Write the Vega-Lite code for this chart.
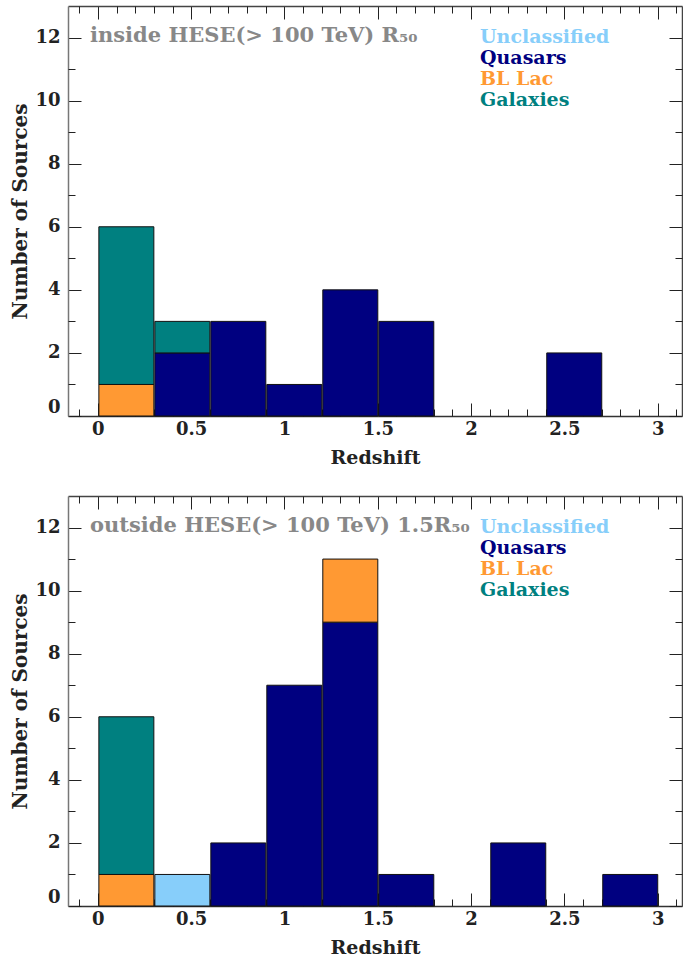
{
  "$schema": "https://vega.github.io/schema/vega-lite/v6.json",
  "padding": {"left": 10, "top": 5, "right": 0, "bottom": 0},
  "spacing": 28,
  "datasets": {
    "inside": [
      {"z_low": 0.0, "z_high": 0.3, "type": "BL Lac", "sources": 1},
      {"z_low": 0.0, "z_high": 0.3, "type": "Galaxies", "sources": 5},
      {"z_low": 0.3, "z_high": 0.6, "type": "Quasars", "sources": 2},
      {"z_low": 0.3, "z_high": 0.6, "type": "Galaxies", "sources": 1},
      {"z_low": 0.6, "z_high": 0.9, "type": "Quasars", "sources": 3},
      {"z_low": 0.9, "z_high": 1.2, "type": "Quasars", "sources": 1},
      {"z_low": 1.2, "z_high": 1.5, "type": "Quasars", "sources": 4},
      {"z_low": 1.5, "z_high": 1.8, "type": "Quasars", "sources": 3},
      {"z_low": 2.4, "z_high": 2.7, "type": "Quasars", "sources": 2}
    ],
    "outside": [
      {"z_low": 0.0, "z_high": 0.3, "type": "BL Lac", "sources": 1},
      {"z_low": 0.0, "z_high": 0.3, "type": "Galaxies", "sources": 5},
      {"z_low": 0.3, "z_high": 0.6, "type": "Unclassified", "sources": 1},
      {"z_low": 0.6, "z_high": 0.9, "type": "Quasars", "sources": 2},
      {"z_low": 0.9, "z_high": 1.2, "type": "Quasars", "sources": 7},
      {"z_low": 1.2, "z_high": 1.5, "type": "Quasars", "sources": 9},
      {"z_low": 1.2, "z_high": 1.5, "type": "BL Lac", "sources": 2},
      {"z_low": 1.5, "z_high": 1.8, "type": "Quasars", "sources": 1},
      {"z_low": 2.1, "z_high": 2.4, "type": "Quasars", "sources": 2},
      {"z_low": 2.7, "z_high": 3.0, "type": "Quasars", "sources": 1}
    ]
  },
  "vconcat": [
    {
      "width": 614,
      "height": 410,
      "data": {"name": "inside"},
      "transform": [{"calculate": "indexof(['Unclassified', 'Quasars', 'BL Lac', 'Galaxies'], datum.type)", "as": "stack_rank"}],
      "title": {"text": "inside HESE(> 100 TeV) R₅₀", "anchor": "start", "frame": "group", "orient": "top", "offset": -61, "dx": 22, "baseline": "bottom", "color": "#888888", "font": "DejaVu Serif", "fontSize": 21, "fontWeight": "bold"},
      "resolve": {"axis": {"x": "independent", "y": "independent"}},
      "layer": [
        {
          "mark": {"type": "bar", "stroke": "#111111", "strokeWidth": 1},
          "encoding": {
            "x": {"field": "z_low", "type": "quantitative", "bin": {"binned": true}, "scale": {"domain": [-0.16, 3.13], "nice": false, "zero": false},
              "axis": {"orient": "bottom", "title": "Redshift", "values": [0, 0.5, 1, 1.5, 2, 2.5, 3], "format": "~g", "tickSize": -13, "labelPadding": 17, "titlePadding": 10, "domainColor": "#333333"}},
            "x2": {"field": "z_high"},
            "y": {"field": "sources", "type": "quantitative", "stack": "zero", "scale": {"domain": [0, 13], "nice": false},
              "axis": {"orient": "left", "title": "Number of Sources", "values": [0, 2, 4, 6, 8, 10, 12], "tickSize": -13, "labelPadding": 21, "labelFlush": true, "titlePadding": 4, "titleFontSize": 20, "domainColor": "#777777"}},
            "order": {"field": "stack_rank", "type": "quantitative", "sort": "ascending"},
            "color": {"field": "type", "type": "nominal",
              "scale": {"domain": ["Unclassified", "Quasars", "BL Lac", "Galaxies"], "range": ["#87cefa", "#000080", "#ff9933", "#008080"]},
              "legend": {"orient": "none", "legendX": 393, "legendY": 21, "title": null, "symbolOpacity": 0, "symbolSize": 0, "symbolStrokeWidth": 0, "labelOffset": 0, "rowPadding": 1, "padding": 0,
                "labelFont": "DejaVu Serif", "labelFontSize": 19, "labelFontWeight": "bold",
                "labelColor": {"expr": "datum.label === 'Unclassified' ? '#87cefa' : datum.label === 'Quasars' ? '#000080' : datum.label === 'BL Lac' ? '#ff9933' : '#008080'"}}}
          }
        },
        {
          "mark": {"type": "rule", "opacity": 0},
          "encoding": {
            "x": {"field": "z_low", "type": "quantitative", "scale": {"domain": [-0.16, 3.13], "nice": false, "zero": false},
              "axis": {"orient": "bottom", "title": null, "labels": false, "domain": false, "tickSize": -7, "values": [-0.1, 0.1, 0.2, 0.3, 0.4, 0.6, 0.7, 0.8, 0.9, 1.1, 1.2, 1.3, 1.4, 1.6, 1.7, 1.8, 1.9, 2.1, 2.2, 2.3, 2.4, 2.6, 2.7, 2.8, 2.9, 3.1]}},
            "y": {"field": "sources", "type": "quantitative", "scale": {"domain": [0, 13], "nice": false},
              "axis": {"orient": "left", "title": null, "labels": false, "domain": false, "tickSize": -7, "values": [1, 3, 5, 7, 9, 11]}}
          }
        },
        {
          "mark": {"type": "rule", "opacity": 0},
          "encoding": {
            "x": {"field": "z_low", "type": "quantitative", "scale": {"domain": [-0.16, 3.13], "nice": false, "zero": false},
              "axis": {"orient": "top", "title": null, "labels": false, "tickSize": -13, "values": [0, 0.5, 1, 1.5, 2, 2.5, 3], "domainColor": "#444444"}},
            "y": {"field": "sources", "type": "quantitative", "scale": {"domain": [0, 13], "nice": false},
              "axis": {"orient": "right", "title": null, "labels": false, "tickSize": -13, "values": [0, 2, 4, 6, 8, 10, 12], "domainColor": "#444444"}}
          }
        },
        {
          "mark": {"type": "rule", "opacity": 0},
          "encoding": {
            "x": {"field": "z_low", "type": "quantitative", "scale": {"domain": [-0.16, 3.13], "nice": false, "zero": false},
              "axis": {"orient": "top", "title": null, "labels": false, "domain": false, "tickSize": -7, "values": [-0.1, 0.1, 0.2, 0.3, 0.4, 0.6, 0.7, 0.8, 0.9, 1.1, 1.2, 1.3, 1.4, 1.6, 1.7, 1.8, 1.9, 2.1, 2.2, 2.3, 2.4, 2.6, 2.7, 2.8, 2.9, 3.1]}},
            "y": {"field": "sources", "type": "quantitative", "scale": {"domain": [0, 13], "nice": false},
              "axis": {"orient": "right", "title": null, "labels": false, "domain": false, "tickSize": -7, "values": [1, 3, 5, 7, 9, 11]}}
          }
        }
      ]
    },
    {
      "width": 614,
      "height": 410,
      "data": {"name": "outside"},
      "transform": [{"calculate": "indexof(['Unclassified', 'Quasars', 'BL Lac', 'Galaxies'], datum.type)", "as": "stack_rank"}],
      "title": {"text": "outside HESE(> 100 TeV) 1.5R₅₀", "anchor": "start", "frame": "group", "orient": "top", "offset": -61, "dx": 22, "baseline": "bottom", "color": "#888888", "font": "DejaVu Serif", "fontSize": 21, "fontWeight": "bold"},
      "resolve": {"axis": {"x": "independent", "y": "independent"}},
      "layer": [
        {
          "mark": {"type": "bar", "stroke": "#111111", "strokeWidth": 1},
          "encoding": {
            "x": {"field": "z_low", "type": "quantitative", "bin": {"binned": true}, "scale": {"domain": [-0.16, 3.13], "nice": false, "zero": false},
              "axis": {"orient": "bottom", "title": "Redshift", "values": [0, 0.5, 1, 1.5, 2, 2.5, 3], "format": "~g", "tickSize": -13, "labelPadding": 17, "titlePadding": 10, "domainColor": "#333333"}},
            "x2": {"field": "z_high"},
            "y": {"field": "sources", "type": "quantitative", "stack": "zero", "scale": {"domain": [0, 13], "nice": false},
              "axis": {"orient": "left", "title": "Number of Sources", "values": [0, 2, 4, 6, 8, 10, 12], "tickSize": -13, "labelPadding": 21, "labelFlush": true, "titlePadding": 4, "titleFontSize": 20, "domainColor": "#777777"}},
            "order": {"field": "stack_rank", "type": "quantitative", "sort": "ascending"},
            "color": {"field": "type", "type": "nominal",
              "scale": {"domain": ["Unclassified", "Quasars", "BL Lac", "Galaxies"], "range": ["#87cefa", "#000080", "#ff9933", "#008080"]},
              "legend": {"orient": "none", "legendX": 393, "legendY": 21, "title": null, "symbolOpacity": 0, "symbolSize": 0, "symbolStrokeWidth": 0, "labelOffset": 0, "rowPadding": 1, "padding": 0,
                "labelFont": "DejaVu Serif", "labelFontSize": 19, "labelFontWeight": "bold",
                "labelColor": {"expr": "datum.label === 'Unclassified' ? '#87cefa' : datum.label === 'Quasars' ? '#000080' : datum.label === 'BL Lac' ? '#ff9933' : '#008080'"}}}
          }
        },
        {
          "mark": {"type": "rule", "opacity": 0},
          "encoding": {
            "x": {"field": "z_low", "type": "quantitative", "scale": {"domain": [-0.16, 3.13], "nice": false, "zero": false},
              "axis": {"orient": "bottom", "title": null, "labels": false, "domain": false, "tickSize": -7, "values": [-0.1, 0.1, 0.2, 0.3, 0.4, 0.6, 0.7, 0.8, 0.9, 1.1, 1.2, 1.3, 1.4, 1.6, 1.7, 1.8, 1.9, 2.1, 2.2, 2.3, 2.4, 2.6, 2.7, 2.8, 2.9, 3.1]}},
            "y": {"field": "sources", "type": "quantitative", "scale": {"domain": [0, 13], "nice": false},
              "axis": {"orient": "left", "title": null, "labels": false, "domain": false, "tickSize": -7, "values": [1, 3, 5, 7, 9, 11]}}
          }
        },
        {
          "mark": {"type": "rule", "opacity": 0},
          "encoding": {
            "x": {"field": "z_low", "type": "quantitative", "scale": {"domain": [-0.16, 3.13], "nice": false, "zero": false},
              "axis": {"orient": "top", "title": null, "labels": false, "tickSize": -13, "values": [0, 0.5, 1, 1.5, 2, 2.5, 3], "domainColor": "#444444"}},
            "y": {"field": "sources", "type": "quantitative", "scale": {"domain": [0, 13], "nice": false},
              "axis": {"orient": "right", "title": null, "labels": false, "tickSize": -13, "values": [0, 2, 4, 6, 8, 10, 12], "domainColor": "#444444"}}
          }
        },
        {
          "mark": {"type": "rule", "opacity": 0},
          "encoding": {
            "x": {"field": "z_low", "type": "quantitative", "scale": {"domain": [-0.16, 3.13], "nice": false, "zero": false},
              "axis": {"orient": "top", "title": null, "labels": false, "domain": false, "tickSize": -7, "values": [-0.1, 0.1, 0.2, 0.3, 0.4, 0.6, 0.7, 0.8, 0.9, 1.1, 1.2, 1.3, 1.4, 1.6, 1.7, 1.8, 1.9, 2.1, 2.2, 2.3, 2.4, 2.6, 2.7, 2.8, 2.9, 3.1]}},
            "y": {"field": "sources", "type": "quantitative", "scale": {"domain": [0, 13], "nice": false},
              "axis": {"orient": "right", "title": null, "labels": false, "domain": false, "tickSize": -7, "values": [1, 3, 5, 7, 9, 11]}}
          }
        }
      ]
    }
  ],
  "resolve": {"scale": {"color": "independent"}, "legend": {"color": "independent"}},
  "config": {
    "view": {"stroke": null},
    "axis": {"grid": false, "zindex": 1, "domainWidth": 1.5, "tickColor": "#222222", "tickWidth": 1,
      "labelFont": "DejaVu Serif", "labelFontSize": 18, "labelFontWeight": "bold", "labelColor": "#222222",
      "titleFont": "DejaVu Serif", "titleFontSize": 19, "titleFontWeight": "bold", "titleColor": "#222222"}
  }
}
